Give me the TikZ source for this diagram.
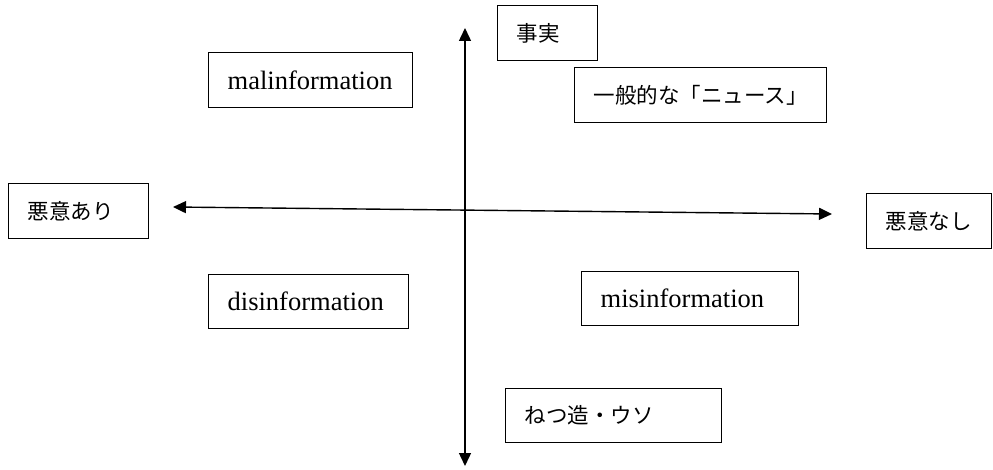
\documentclass[tikz,border=0pt]{standalone}
\usepackage{fontspec}
\setmainfont{Liberation Serif}
\newfontfamily\jp{Noto Sans CJK JP}
\usetikzlibrary{arrows.meta}
\begin{document}
\begin{tikzpicture}[x=1pt,y=-1pt,
  box/.style={draw, line width=1.4pt, anchor=north west, inner xsep=19pt, inner ysep=0pt, align=left},
  lat/.style={font=\fontsize{26.5}{29}\selectfont},
  jpt/.style={font=\jp\fontsize{21.5}{24}\selectfont},
  axis/.style={line width=1.4pt, {Triangle[length=13pt,width=12pt]}-{Triangle[length=13pt,width=12pt]}}]
\useasboundingbox (0,0) rectangle (993,470);
\fill[white] (0,0) rectangle (993,470);
% boxes
\node[box,lat,text width=166pt,minimum height=55pt] (mal) at (208,52) {malinformation};
\node[box,lat,text width=162pt,minimum height=54pt] (dis) at (208,274) {disinformation};
\node[box,lat,text width=179pt,minimum height=54pt] (mis) at (581,271) {misinformation};
\node[box,jpt,text width=214pt,minimum height=55pt] (news) at (574,67) {一般的な「ニュース」};
\node[box,jpt,text width=102pt,minimum height=55pt] (ari) at (8,183) {悪意あり};
\node[box,jpt,text width=87pt,minimum height=55pt] (nashi) at (866,193) {悪意なし};
\node[box,jpt,text width=62pt,minimum height=55pt] (fact) at (497,5) {事実};
\node[box,jpt,text width=178pt,minimum height=54pt] (lie) at (505,388) {ねつ造・ウソ};
% axes
\coordinate (top) at (465,28);
\coordinate (bot) at (465,466);
\coordinate (left) at (173,207);
\coordinate (right) at (832,214);
\draw[axis] (bot) -- (top);
\draw[axis] (left) -- (right);
\end{tikzpicture}
\end{document}
